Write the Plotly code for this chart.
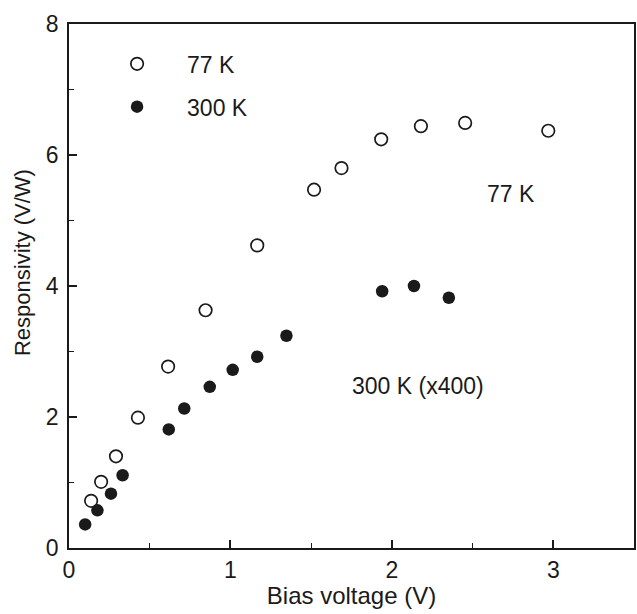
import plotly.graph_objects as go

# 77 K (open circles)
v77 = [0.137, 0.199, 0.291, 0.427, 0.614, 0.846, 1.166, 1.518, 1.688, 1.934, 2.18, 2.454, 2.969]
r77 = [0.72, 1.01, 1.40, 1.99, 2.77, 3.63, 4.62, 5.47, 5.80, 6.24, 6.44, 6.49, 6.37]

# 300 K (x400) (filled circles)
v300 = [0.100, 0.176, 0.260, 0.332, 0.618, 0.714, 0.872, 1.014, 1.166, 1.347, 1.94, 2.137, 2.353]
r300 = [0.36, 0.575, 0.83, 1.11, 1.81, 2.13, 2.46, 2.72, 2.92, 3.24, 3.92, 4.00, 3.82]

xticks = [0, 1, 2, 3]
yticks = [0, 2, 4, 6, 8]

FONT = "Liberation Sans, Arial, Helvetica, sans-serif"
INK = "#1a1a1a"

fig = go.Figure()
fig.add_trace(go.Scatter(
    x=v77, y=r77, mode="markers", name="77 K", legendgroup="a",
    marker=dict(symbol="circle-open", size=12.5, color=INK, line=dict(width=1.7, color=INK)),
))
fig.add_trace(go.Scatter(
    x=v300, y=r300, mode="markers", name="300 K", legendgroup="b",
    marker=dict(symbol="circle", size=12.5, color=INK),
))

fig.add_annotation(x=2.74, y=5.40, text="77 K", showarrow=False,
                   font=dict(size=23, color=INK, family=FONT))
fig.add_annotation(x=2.163, y=2.47, text="300 K (x400)", showarrow=False,
                   font=dict(size=23, color=INK, family=FONT))
# y-axis title (placed as in the reference, slightly above centre)
fig.add_annotation(xref="paper", yref="paper", x=-0.082, y=0.545, xanchor="center", yanchor="middle",
                   text="Responsivity (V/W)", textangle=-90, showarrow=False,
                   font=dict(size=22, color=INK, family=FONT))

axis_common = dict(
    showgrid=False, zeroline=False, showline=True, linecolor=INK, linewidth=1.8,
    mirror=True, ticks="inside", ticklen=8, tickwidth=1.6, tickcolor=INK,
    tickfont=dict(size=23, color=INK, family=FONT),
)

fig.update_xaxes(range=[0, 3.5], tickvals=xticks, ticktext=[str(t) for t in xticks],
                 title=dict(text="Bias voltage (V)", font=dict(size=24, color=INK, family=FONT), standoff=5),
                 ticklabelstandoff=0,
                 minor=dict(ticks="inside", ticklen=5, tickwidth=1.4, tickcolor=INK, dtick=0.5),
                 **axis_common)
fig.update_yaxes(range=[0, 8], tickvals=yticks, ticktext=[str(t) for t in yticks],
                 ticklabelstandoff=4,
                 minor=dict(ticks="inside", ticklen=5, tickwidth=1.4, tickcolor=INK, dtick=1),
                 **axis_common)

fig.update_layout(
    width=637, height=614,
    margin=dict(l=69, r=1, t=24, b=66),
    paper_bgcolor="white", plot_bgcolor="white",
    font=dict(family=FONT, color=INK),
    showlegend=True,
    legend=dict(x=0.032, y=0.965, xanchor="left", yanchor="top",
                bgcolor="rgba(0,0,0,0)", font=dict(size=23, color=INK, family=FONT),
                itemwidth=90, tracegroupgap=10),
)

fig.write_html("out.html")
